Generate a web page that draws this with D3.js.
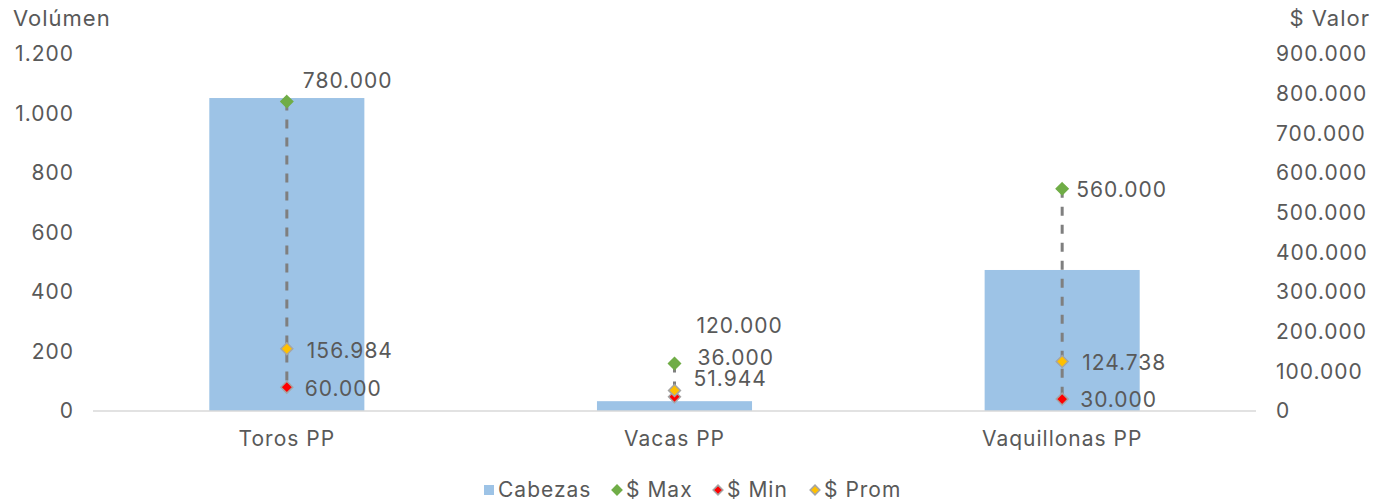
<!DOCTYPE html>
<html>
<head>
<meta charset="utf-8">
<script src="https://cdn.jsdelivr.net/npm/d3@7"></script>
<style>
  body { margin: 0; background: #fff; }
  text { font-family: Inter, "Noto Sans", sans-serif; fill: #595959; letter-spacing: 1px; }
</style>
</head>
<body>
<div class="chart"></div>
<script>
// data
const categories = ['Toros PP', 'Vacas PP', 'Vaquillonas PP'];
const cabezas = [1052, 33, 474];
const maxValor = [780000, 120000, 560000];
const minValor = [60000, 36000, 30000];
const promValor = [156984, 51944, 124738];
const leftTicks = [0, 200, 400, 600, 800, 1000, 1200];
const rightTicks = [0, 100000, 200000, 300000, 400000, 500000, 600000, 700000, 800000, 900000];

// label nudges (dx, dy) per series/category, the way Excel left them
const labelNudge = {
  max: [[16, -21], [22, -38], [14, 1]],
  min: [[18, 1], [23, -39], [18, 1]],
  prom: [[20, 2], [19, -12], [20, 1]]
};

const W = 1390, H = 504;
const m = {top: 54, right: 134, bottom: 93, left: 93};

const fmt = d3.formatLocale({decimal: ',', thousands: '.', grouping: [3], currency: ['$', '']}).format(',d');

const svg = d3.select('div.chart').append('svg')
  .attr('width', W).attr('height', H);

const x0 = d3.scaleBand().domain(categories).range([m.left, W - m.right]);
const barW = x0.bandwidth() * 0.4;
const cx = d => x0(d) + x0.bandwidth() / 2;
const yL = d3.scaleLinear().domain([0, 1200]).range([H - m.bottom, m.top]);
const yR = d3.scaleLinear().domain([0, 900000]).range([H - m.bottom, m.top]);

// left axis labels
svg.append('g').selectAll('text').data(leftTicks).enter().append('text')
  .attr('x', 74).attr('y', d => yL(d)).attr('dy', '0.35em')
  .attr('text-anchor', 'end').style('font-size', '21px')
  .text(d => fmt(d));

// right axis labels
svg.append('g').selectAll('text').data(rightTicks).enter().append('text')
  .attr('x', 1276).attr('y', d => yR(d)).attr('dy', '0.35em')
  .style('font-size', '21px')
  .text(d => fmt(d));

svg.append('text').attr('x', 13).attr('y', 26).style('font-size', '22px').text('Volúmen');
svg.append('text').attr('x', 1370).attr('y', 26).attr('text-anchor', 'end').style('font-size', '22px').text('$ Valor');

// bars
svg.append('g').selectAll('rect').data(categories).enter().append('rect')
  .attr('x', d => cx(d) - barW / 2).attr('width', barW)
  .attr('y', (d, i) => yL(cabezas[i]))
  .attr('height', (d, i) => yL(0) - yL(cabezas[i]))
  .style('fill', '#9dc3e6');

// baseline
svg.append('line')
  .attr('x1', m.left).attr('x2', W - m.right)
  .attr('y1', yL(0)).attr('y2', yL(0))
  .style('stroke', '#d9d9d9').style('stroke-width', 1.5);

// category labels
svg.append('g').selectAll('text').data(categories).enter().append('text')
  .attr('x', cx).attr('y', 446)
  .attr('text-anchor', 'middle').style('font-size', '21px')
  .text(d => d);

// high-low lines
svg.append('g').selectAll('line').data(categories).enter().append('line')
  .attr('x1', cx).attr('x2', cx)
  .attr('y1', (d, i) => yR(maxValor[i])).attr('y2', (d, i) => yR(minValor[i]))
  .style('stroke', '#7f7f7f').style('stroke-width', 3)
  .style('stroke-dasharray', '9,9');

const diamond = d3.symbol().type(d3.symbolDiamond2).size(90);
const series = [
  {key: 'max', vals: maxValor, fill: '#70ad47', stroke: '#70ad47'},
  {key: 'min', vals: minValor, fill: '#ff0000', stroke: '#a5a5a5'},
  {key: 'prom', vals: promValor, fill: '#ffc000', stroke: '#a5a5a5'}
];

series.forEach(s => {
  svg.append('g').selectAll('path').data(categories).enter().append('path')
    .attr('d', diamond)
    .attr('transform', (d, i) => `translate(${cx(d)},${yR(s.vals[i])})`)
    .style('fill', s.fill).style('stroke', s.stroke).style('stroke-width', 1.5);
  svg.append('g').selectAll('text').data(categories).enter().append('text')
    .attr('x', (d, i) => cx(d) + labelNudge[s.key][i][0])
    .attr('y', (d, i) => yR(s.vals[i]) + labelNudge[s.key][i][1])
    .attr('dy', '0.35em').style('font-size', '21px')
    .text((d, i) => fmt(s.vals[i]));
});

// legend
const lg = svg.append('g').attr('transform', 'translate(0,490)');
lg.append('rect').attr('x', 484).attr('y', -5).attr('width', 10).attr('height', 10).style('fill', '#9dc3e6');
lg.append('text').attr('x', 498).attr('dy', '0.35em').style('font-size', '21px').text('Cabezas');
const legItems = [
  {x: 617, label: '$ Max', s: series[0]},
  {x: 718, label: '$ Min', s: series[1]},
  {x: 815, label: '$ Prom', s: series[2]}
];
legItems.forEach(it => {
  lg.append('path').attr('d', d3.symbol().type(d3.symbolDiamond2).size(60))
    .attr('transform', `translate(${it.x},0)`)
    .style('fill', it.s.fill).style('stroke', it.s.stroke).style('stroke-width', 1.5);
  lg.append('text').attr('x', it.x + 9).attr('dy', '0.35em').style('font-size', '21px').text(it.label);
});
</script>
</body>
</html>
